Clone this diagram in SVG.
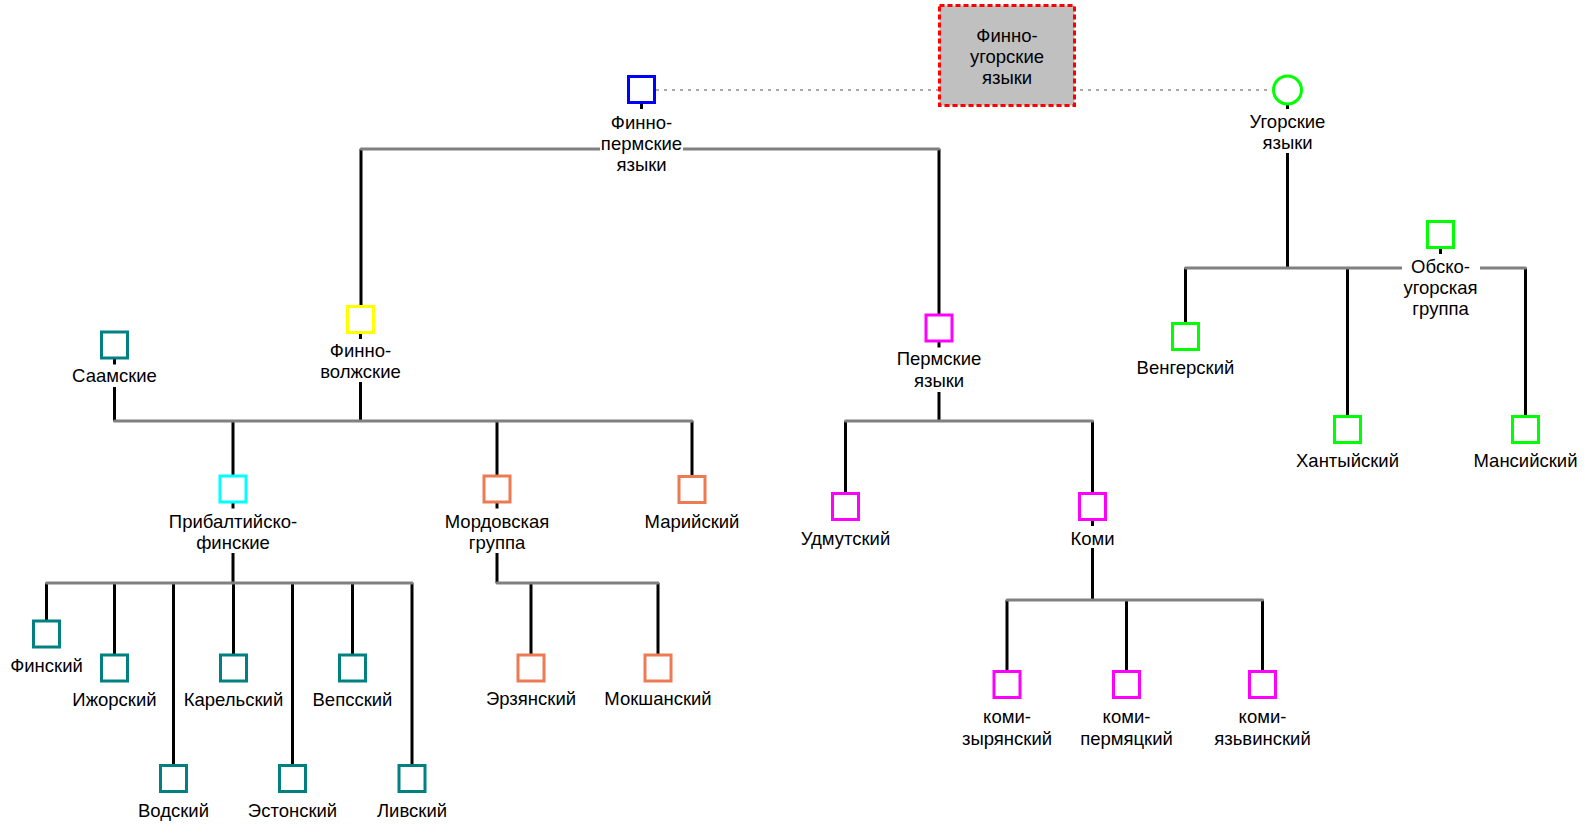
<svg xmlns="http://www.w3.org/2000/svg" width="1595" height="833" viewBox="0 0 1595 833">
<style>
  text { font-family: "Liberation Sans", Arial, sans-serif; font-size: 18.5px; fill: #000; text-anchor: middle; }
  .bg { fill: #fff; stroke: none; }
  .sq { fill: #fff; stroke-width: 3; }
  .bar { stroke: #808080; stroke-width: 3; fill: none; stroke-linecap: round; }
  .stem { stroke: #000; stroke-width: 3; fill: none; }
  .dot { stroke: #555; stroke-width: 1; stroke-dasharray: 3 5; fill: none; }
  .blue { stroke: #0000ff; }
  .yellow { stroke: #ffff00; }
  .teal { stroke: #008080; }
  .cyan { stroke: #00ffff; }
  .coral { stroke: #ec7a52; }
  .magenta { stroke: #ff00ff; }
  .green { stroke: #00ff00; }
</style>
<rect width="1595" height="833" fill="#fff"/>
<g id="connectors">
  <line class="dot" x1="656" y1="90" x2="1272" y2="90"/>
  <!-- Finno-Permic -->
  <line class="stem" x1="641.5" y1="104" x2="641.5" y2="149"/>
  <line class="stem" x1="361" y1="149" x2="361" y2="305"/>
  <line class="stem" x1="939" y1="149" x2="939" y2="314"/>
  <line class="bar" x1="361" y1="149" x2="939" y2="149"/>
  <!-- Finno-Volgaic -->
  <line class="stem" x1="114.5" y1="359" x2="114.5" y2="421"/>
  <line class="stem" x1="360.5" y1="334" x2="360.5" y2="421"/>
  <line class="stem" x1="233" y1="421" x2="233" y2="475"/>
  <line class="stem" x1="497" y1="421" x2="497" y2="475"/>
  <line class="stem" x1="692" y1="421" x2="692" y2="475"/>
  <line class="bar" x1="114.5" y1="421" x2="692" y2="421"/>
  <!-- Baltic-Finnic -->
  <line class="stem" x1="233" y1="503" x2="233" y2="583"/>
  <line class="stem" x1="46.5" y1="583" x2="46.5" y2="620"/>
  <line class="stem" x1="114.5" y1="583" x2="114.5" y2="654"/>
  <line class="stem" x1="173.5" y1="583" x2="173.5" y2="765"/>
  <line class="stem" x1="233.5" y1="583" x2="233.5" y2="654"/>
  <line class="stem" x1="292.5" y1="583" x2="292.5" y2="765"/>
  <line class="stem" x1="352.5" y1="583" x2="352.5" y2="654"/>
  <line class="stem" x1="412" y1="583" x2="412" y2="765"/>
  <line class="bar" x1="46.5" y1="583" x2="412" y2="583"/>
  <!-- Mordvinic -->
  <line class="stem" x1="497" y1="503" x2="497" y2="583"/>
  <line class="stem" x1="531" y1="583" x2="531" y2="654"/>
  <line class="stem" x1="658" y1="583" x2="658" y2="654"/>
  <line class="bar" x1="497" y1="583" x2="658" y2="583"/>
  <!-- Permic -->
  <line class="stem" x1="939" y1="342" x2="939" y2="421"/>
  <line class="stem" x1="845.5" y1="421" x2="845.5" y2="493"/>
  <line class="stem" x1="1092.5" y1="421" x2="1092.5" y2="493"/>
  <line class="bar" x1="845.5" y1="421" x2="1092.5" y2="421"/>
  <!-- Komi -->
  <line class="stem" x1="1092.5" y1="520" x2="1092.5" y2="600"/>
  <line class="stem" x1="1007" y1="600" x2="1007" y2="671"/>
  <line class="stem" x1="1126.5" y1="600" x2="1126.5" y2="671"/>
  <line class="stem" x1="1262.5" y1="600" x2="1262.5" y2="671"/>
  <line class="bar" x1="1007" y1="600" x2="1262.5" y2="600"/>
  <!-- Ugric -->
  <line class="stem" x1="1287.5" y1="104" x2="1287.5" y2="268"/>
  <line class="stem" x1="1440.5" y1="248" x2="1440.5" y2="268"/>
  <line class="stem" x1="1185.5" y1="268" x2="1185.5" y2="323"/>
  <line class="stem" x1="1347.5" y1="268" x2="1347.5" y2="416"/>
  <line class="stem" x1="1525.5" y1="268" x2="1525.5" y2="416"/>
  <line class="bar" x1="1185.5" y1="268" x2="1525.5" y2="268"/>
</g>
<g id="root">
  <rect x="939.5" y="5.5" width="135" height="100" fill="#c0c0c0" stroke="#ff0000" stroke-width="3" stroke-dasharray="5 3"/>
  <text x="1007" y="42">Финно-</text>
  <text x="1007" y="63">угорские</text>
  <text x="1007" y="84">языки</text>
</g>
<g id="finno-permic">
  <rect class="sq blue" x="628.5" y="76.5" width="26" height="26"/>
  <rect class="bg" x="600" y="109" width="83" height="67"/>
  <text x="641.5" y="129">Финно-</text>
  <text x="641.5" y="150">пермские</text>
  <text x="641.5" y="171">языки</text>
</g>
<g id="ugric">
  <circle cx="1287.5" cy="90" r="14" fill="#fff" stroke="#00ff00" stroke-width="3"/>
  <rect class="bg" x="1247" y="109" width="81" height="44"/>
  <text x="1287.5" y="128">Угорские</text>
  <text x="1287.5" y="149">языки</text>
</g>
<g id="finno-volgaic">
  <rect class="sq yellow" x="347.5" y="306.5" width="26" height="26"/>
  <rect class="bg" x="320" y="339" width="82" height="43"/>
  <text x="360.5" y="357">Финно-</text>
  <text x="360.5" y="378">волжские</text>
</g>
<g id="permic">
  <rect class="sq magenta" x="926" y="315" width="26" height="26"/>
  <rect class="bg" x="895" y="347.5" width="88" height="44.5"/>
  <text x="939" y="365">Пермские</text>
  <text x="939" y="387">языки</text>
</g>
<g id="saami">
  <rect class="sq teal" x="101.5" y="332" width="26" height="26"/>
  <rect class="bg" x="72" y="364.5" width="85" height="22.5"/>
  <text x="114.5" y="382">Саамские</text>
</g>
<g id="baltic-finnic">
  <rect class="sq cyan" x="220" y="476" width="26" height="26"/>
  <rect class="bg" x="169" y="508.5" width="128" height="44.5"/>
  <text x="233" y="528">Прибалтийско-</text>
  <text x="233" y="549">финские</text>
</g>
<g id="mordvinic">
  <rect class="sq coral" x="484" y="476" width="26" height="26"/>
  <rect class="bg" x="444" y="508.5" width="107" height="44.5"/>
  <text x="497" y="528">Мордовская</text>
  <text x="497" y="549">группа</text>
</g>
<g id="mari">
  <rect class="sq coral" x="679" y="476.5" width="26" height="26"/>
  <text x="692" y="528">Марийский</text>
</g>
<g id="finnish">
  <rect class="sq teal" x="33.5" y="621" width="26" height="26"/>
  <text x="46.5" y="672">Финский</text>
</g>
<g id="izhorian">
  <rect class="sq teal" x="101.5" y="655" width="26" height="26"/>
  <text x="114.5" y="706">Ижорский</text>
</g>
<g id="votic">
  <rect class="sq teal" x="160.5" y="765.5" width="26" height="26"/>
  <text x="173.5" y="817">Водский</text>
</g>
<g id="karelian">
  <rect class="sq teal" x="220.5" y="655" width="26" height="26"/>
  <text x="233.5" y="706">Карельский</text>
</g>
<g id="estonian">
  <rect class="sq teal" x="279.5" y="765.5" width="26" height="26"/>
  <text x="292.5" y="817">Эстонский</text>
</g>
<g id="veps">
  <rect class="sq teal" x="339.5" y="655" width="26" height="26"/>
  <text x="352.5" y="706">Вепсский</text>
</g>
<g id="livonian">
  <rect class="sq teal" x="399" y="765.5" width="26" height="26"/>
  <text x="412" y="817">Ливский</text>
</g>
<g id="erzya">
  <rect class="sq coral" x="518" y="655" width="26" height="26"/>
  <text x="531" y="705">Эрзянский</text>
</g>
<g id="moksha">
  <rect class="sq coral" x="645" y="655" width="26" height="26"/>
  <text x="658" y="705">Мокшанский</text>
</g>
<g id="udmurt">
  <rect class="sq magenta" x="832.5" y="493.5" width="26" height="26"/>
  <text x="845.5" y="545">Удмутский</text>
</g>
<g id="komi">
  <rect class="sq magenta" x="1079.5" y="493.5" width="26" height="26"/>
  <rect class="bg" x="1069" y="526" width="47" height="22"/>
  <text x="1092.5" y="545">Коми</text>
</g>
<g id="komi-zyrian">
  <rect class="sq magenta" x="994" y="671.5" width="26" height="26"/>
  <text x="1007" y="723">коми-</text>
  <text x="1007" y="745">зырянский</text>
</g>
<g id="komi-permyak">
  <rect class="sq magenta" x="1113.5" y="671.5" width="26" height="26"/>
  <text x="1126.5" y="723">коми-</text>
  <text x="1126.5" y="745">пермяцкий</text>
</g>
<g id="komi-yazva">
  <rect class="sq magenta" x="1249.5" y="671.5" width="26" height="26"/>
  <text x="1262.5" y="723">коми-</text>
  <text x="1262.5" y="745">язьвинский</text>
</g>
<g id="hungarian">
  <rect class="sq green" x="1172.5" y="323.5" width="26" height="26"/>
  <text x="1185.5" y="374">Венгерский</text>
</g>
<g id="ob-ugric">
  <rect class="sq green" x="1427.5" y="221.5" width="26" height="26"/>
  <rect class="bg" x="1402" y="254" width="78" height="66"/>
  <text x="1440.5" y="273">Обско-</text>
  <text x="1440.5" y="294">угорская</text>
  <text x="1440.5" y="315">группа</text>
</g>
<g id="khanty">
  <rect class="sq green" x="1334.5" y="416.5" width="26" height="26"/>
  <text x="1347.5" y="467">Хантыйский</text>
</g>
<g id="mansi">
  <rect class="sq green" x="1512.5" y="416.5" width="26" height="26"/>
  <text x="1525.5" y="467">Мансийский</text>
</g>
</svg>
